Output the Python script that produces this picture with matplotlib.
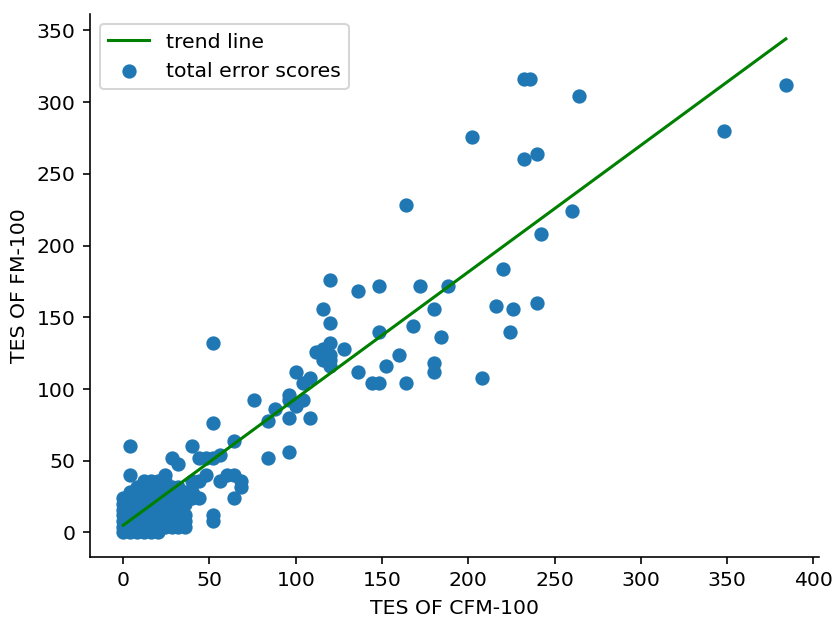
import matplotlib
matplotlib.use("Agg")
import matplotlib.pyplot as plt
import numpy as np

# dense low-score cluster (CFM-100, FM-100)
cluster_cfm = [0, 0, 0, 0, 0, 0, 0,
               4, 4, 4, 4, 4, 4, 4, 4,
               8, 8, 8, 8, 8, 8, 8, 8, 8,
               12, 12, 12, 12, 12, 12, 12, 12, 12, 12,
               16, 16, 16, 16, 16, 16, 16, 16, 16, 16,
               20, 20, 20, 20, 20, 20, 20, 20, 20, 20,
               24, 24, 24, 24, 24, 24, 24, 24, 24, 24,
               28, 28, 28, 28, 28, 28, 28, 28,
               32, 32, 32, 32, 32, 32, 32, 32,
               36, 36, 36, 36, 36, 36,
               40, 40, 40]
cluster_fm = [0, 4, 8, 12, 16, 20, 24,
              0, 4, 8, 12, 16, 20, 24, 28,
              0, 4, 8, 12, 16, 20, 24, 28, 32,
              0, 4, 8, 12, 16, 20, 24, 28, 32, 36,
              0, 4, 8, 12, 16, 20, 24, 28, 32, 36,
              0, 4, 8, 12, 16, 20, 24, 28, 32, 36,
              4, 8, 12, 16, 20, 24, 28, 32, 36, 40,
              4, 8, 12, 16, 20, 24, 28, 32,
              4, 8, 12, 16, 20, 24, 28, 32,
              4, 8, 12, 20, 24, 28,
              24, 28, 36]

# scattered scores
spread_cfm = [4, 4, 40, 28, 32, 44, 48, 52, 56, 64, 52, 52, 76, 88, 84, 96,
              84, 96, 64, 68, 68, 64, 56, 60, 44, 48, 40, 44, 52, 52,
              100, 104, 108, 96, 96, 100, 104, 108,
              112, 116, 120, 120, 120, 120, 116, 128, 120, 120, 116,
              136, 136, 148, 148, 144, 148, 152, 160, 164, 168, 172, 180,
              180, 180, 184, 188, 164, 208, 202, 216, 220, 224, 226, 232,
              240, 232, 236, 240, 242, 260, 264, 348, 384]
spread_fm = [60, 40, 60, 52, 48, 52, 52, 52, 54, 64, 132, 76, 92, 86, 78, 80,
             52, 56, 40, 36, 32, 24, 36, 40, 36, 40, 28, 24, 12, 8,
             112, 104, 108, 96, 92, 88, 92, 80,
             126, 128, 132, 124, 120, 116, 120, 128, 176, 146, 156,
             168, 112, 172, 140, 104, 104, 116, 124, 104, 144, 172, 156,
             118, 112, 136, 172, 228, 108, 276, 158, 184, 140, 156, 260,
             264, 316, 316, 160, 208, 224, 304, 280, 312]

# trend line
trend_slope = 0.883
trend_intercept = 5.0

tes_cfm = np.array(cluster_cfm + spread_cfm, dtype=float)
tes_fm = np.array(cluster_fm + spread_fm, dtype=float)

DPI = 147
fig, ax = plt.subplots(figsize=(834 / DPI, 617 / DPI), dpi=DPI)
fig.subplots_adjust(left=0.108, right=0.982, bottom=0.097, top=0.977)

line_x = np.array([tes_cfm.min(), tes_cfm.max()])
ax.plot(line_x, trend_slope * line_x + trend_intercept, color="green", label="trend line")
ax.scatter(tes_cfm, tes_fm, label="total error scores")

ax.set_xlabel("TES OF CFM-100")
ax.set_ylabel("TES OF FM-100")
ax.spines["top"].set_visible(False)
ax.spines["right"].set_visible(False)
ax.legend(loc="upper left")

fig.savefig("out.png", dpi=DPI)
